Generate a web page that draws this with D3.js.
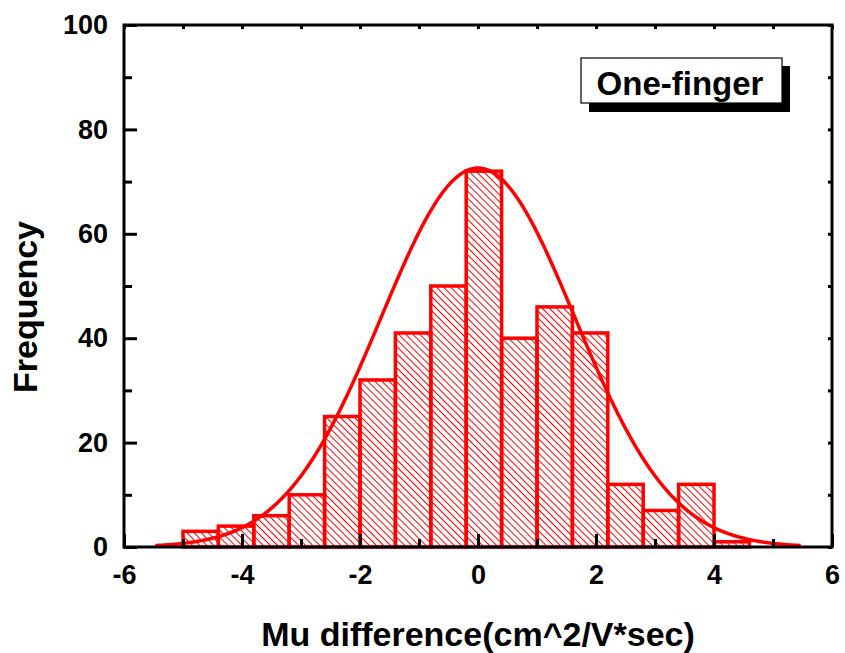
<!DOCTYPE html>
<html>
<head>
<meta charset="utf-8">
<script src="https://cdn.jsdelivr.net/npm/d3@7/dist/d3.min.js"></script>
<style>
  html, body { margin: 0; padding: 0; background: #fff; }
  svg { display: block; }
  text { font-family: "Liberation Sans", Arial, Helvetica, sans-serif; font-weight: bold; fill: #000; }
</style>
</head>
<body>
<svg id="chart" width="845" height="653"></svg>
<script>
// Histogram bins: lower edge of each bin and its count
const binStarts = [-5.0, -4.4, -3.8, -3.2, -2.6, -2.0, -1.4, -0.8, -0.2, 0.4, 1.0, 1.6, 2.2, 2.8, 3.4, 4.0];
const counts    = [3, 4, 6, 10, 25, 32, 41, 50, 72, 40, 46, 41, 12, 7, 12, 1];
const binWidth = 0.6;

// Gaussian fit of the distribution
const fitCenter = 0.0;
const fitSigma = 1.64;
const fitAmplitude = 72.6;
const fitRange = [-5.47, 5.47];

// Axis ticks
const xMajorTicks = [-6, -4, -2, 0, 2, 4, 6];
const xMinorTicks = [-5, -3, -1, 1, 3, 5];
const yMajorTicks = [0, 20, 40, 60, 80, 100];
const yMinorTicks = [10, 30, 50, 70, 90];

const xTitle = "Mu difference(cm^2/V*sec)";
const yTitle = "Frequency";
const legendLabel = "One-finger";

const svg = d3.select("#chart");
const plotLeft = 124, plotRight = 832, plotTop = 25, plotBottom = 547;

const x = d3.scaleLinear().domain([-6, 6]).range([plotLeft, plotRight]);
const y = d3.scaleLinear().domain([0, 100]).range([plotBottom, plotTop]);

// Hatch pattern for the bars
const defs = svg.append("defs");
defs.append("pattern")
  .attr("id", "hatch")
  .attr("patternUnits", "userSpaceOnUse")
  .attr("width", 5).attr("height", 5)
  .attr("patternTransform", "rotate(-45)")
  .append("line")
  .attr("x1", 0.5).attr("y1", 0).attr("x2", 0.5).attr("y2", 5)
  .attr("stroke", "#ff0000").attr("stroke-width", 1);

const bins = binStarts.map((s, i) => ({ x0: s, x1: s + binWidth, n: counts[i] }));

svg.append("g").selectAll("rect")
  .data(bins)
  .join("rect")
  .attr("x", d => x(d.x0))
  .attr("y", d => y(d.n))
  .attr("width", d => x(d.x1) - x(d.x0))
  .attr("height", d => y(0) - y(d.n))
  .attr("fill", "url(#hatch)")
  .attr("stroke", "#ff0000")
  .attr("stroke-width", 3.5);

// Fitted Gaussian curve
const curveXs = d3.range(fitRange[0], fitRange[1] + 1e-9, 0.02);
const gauss = v => fitAmplitude * Math.exp(-((v - fitCenter) ** 2) / (2 * fitSigma * fitSigma));
svg.append("path")
  .datum(curveXs)
  .attr("fill", "none")
  .attr("stroke", "#ff0000")
  .attr("stroke-width", 3.5)
  .attr("stroke-linejoin", "round")
  .attr("d", d3.line().x(v => x(v)).y(v => y(gauss(v))));

// Axes: labelled bottom/left, ticks pointing inward
const fontSize = 27;
const plainFormat = d => String(d);
svg.append("g").attr("transform", `translate(0,${plotBottom})`)
  .call(d3.axisBottom(x).tickValues(xMajorTicks).tickSize(-13).tickSizeOuter(0).tickPadding(18).tickFormat(plainFormat));
svg.append("g").attr("transform", `translate(0,${plotBottom})`)
  .call(d3.axisBottom(x).tickValues(xMinorTicks).tickSize(-8).tickSizeOuter(0).tickFormat(""));
svg.append("g").attr("transform", `translate(${plotLeft},0)`)
  .call(d3.axisLeft(y).tickValues(yMajorTicks).tickSize(-13).tickSizeOuter(0).tickPadding(16).tickFormat(plainFormat));
svg.append("g").attr("transform", `translate(${plotLeft},0)`)
  .call(d3.axisLeft(y).tickValues(yMinorTicks).tickSize(-8).tickSizeOuter(0).tickFormat(""));
// Short inward ticks on the top and right edges
svg.append("g").attr("transform", `translate(0,${plotTop})`)
  .call(d3.axisTop(x).tickValues(xMajorTicks.concat(xMinorTicks)).tickSize(-4).tickSizeOuter(0).tickFormat(""));
svg.append("g").attr("transform", `translate(${plotRight},0)`)
  .call(d3.axisRight(y).tickValues(yMajorTicks.concat(yMinorTicks)).tickSize(-4).tickSizeOuter(0).tickFormat(""));

svg.selectAll(".domain").remove();
svg.selectAll(".tick line").attr("stroke", "#000").attr("stroke-width", 3);
svg.selectAll(".tick text").attr("font-size", fontSize)
  .style("font-family", "'Liberation Sans', Arial, Helvetica, sans-serif").style("font-weight", "bold");

// Plot frame
svg.append("rect")
  .attr("x", plotLeft).attr("y", plotTop)
  .attr("width", plotRight - plotLeft).attr("height", plotBottom - plotTop)
  .attr("fill", "none").attr("stroke", "#000").attr("stroke-width", 3);

// Axis titles
svg.append("text")
  .attr("x", (plotLeft + plotRight) / 2).attr("y", 646)
  .attr("text-anchor", "middle").attr("font-size", 34)
  .text(xTitle);
svg.append("text")
  .attr("transform", "translate(37,307) rotate(-90)")
  .attr("text-anchor", "middle").attr("font-size", 34)
  .text(yTitle);

// Legend box with drop shadow
const lg = svg.append("g");
lg.append("rect").attr("x", 589).attr("y", 66).attr("width", 201).attr("height", 46).attr("fill", "#000");
lg.append("rect").attr("x", 581).attr("y", 58).attr("width", 201).attr("height", 45)
  .attr("fill", "#fff").attr("stroke", "#000").attr("stroke-width", 1.2);
lg.append("text").attr("x", 680).attr("y", 95).attr("text-anchor", "middle").attr("font-size", 33)
  .text(legendLabel);
</script>
</body>
</html>
